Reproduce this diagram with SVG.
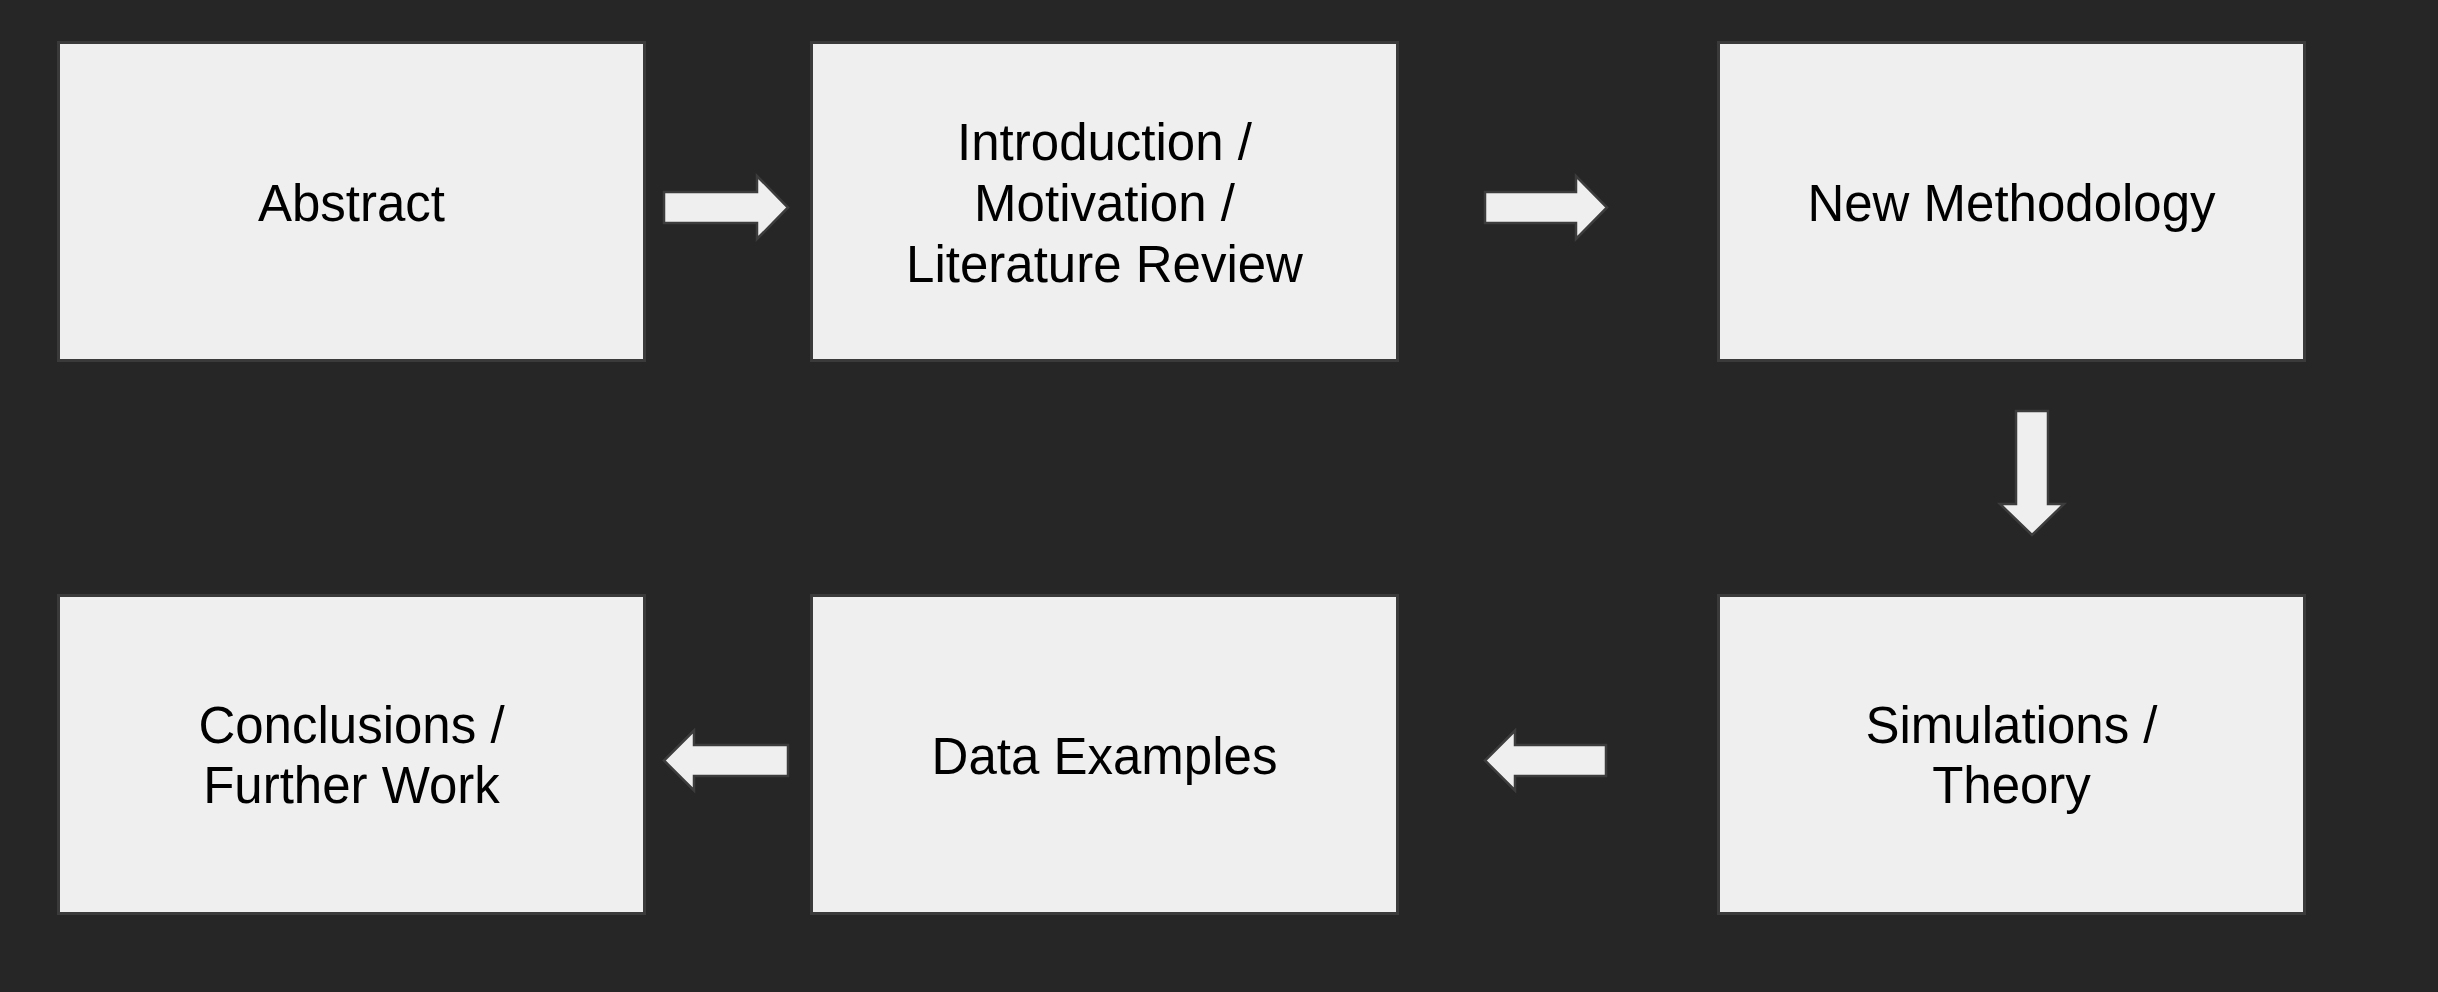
<svg xmlns="http://www.w3.org/2000/svg" width="2438" height="992" viewBox="0 0 2438 992">
<style>
.box{fill:#efefef;stroke:#3a3a3a;stroke-width:3}
.lbl{font-family:"Liberation Sans",Arial,sans-serif;font-size:51px;fill:#000;text-anchor:middle}
.arr{fill:#efefef;stroke:#3c3c3c;stroke-width:2.5;stroke-linejoin:miter}
</style>
<rect x="0" y="0" width="2438" height="992" fill="#262626"/>
<g id="node-abstract">
<rect class="box" x="58.5" y="42.5" width="586" height="318"/>
<text class="lbl" x="351.5" y="221">Abstract</text>
</g>
<g id="node-introduction">
<rect class="box" x="811.5" y="42.5" width="586" height="318"/>
<text class="lbl" x="1104.5" y="160">Introduction /</text>
<text class="lbl" x="1104.5" y="221">Motivation /</text>
<text class="lbl" x="1104.5" y="282">Literature Review</text>
</g>
<g id="node-methodology">
<rect class="box" x="1718.5" y="42.5" width="586" height="318"/>
<text class="lbl" x="2011.5" y="221">New Methodology</text>
</g>
<g id="node-simulations">
<rect class="box" x="1718.5" y="595.5" width="586" height="318"/>
<text class="lbl" x="2011.5" y="743">Simulations /</text>
<text class="lbl" x="2011.5" y="803">Theory</text>
</g>
<g id="node-data">
<rect class="box" x="811.5" y="595.5" width="586" height="318"/>
<text class="lbl" x="1104.5" y="774">Data Examples</text>
</g>
<g id="node-conclusions">
<rect class="box" x="58.5" y="595.5" width="586" height="318"/>
<text class="lbl" x="351.5" y="743">Conclusions /</text>
<text class="lbl" x="351.5" y="803">Further Work</text>
</g>
<g id="connectors">
<polygon class="arr" points="664,192 757,192 757,176 788,207.5 757,239 757,223 664,223"/>
<polygon class="arr" points="1485,192 1576,192 1576,176 1607,207.5 1576,239 1576,223 1485,223"/>
<polygon class="arr" points="2016,411 2048,411 2048,504 2064,504 2032,535 2000,504 2016,504"/>
<polygon class="arr" points="1606,745 1515,745 1515,730.5 1485,760.5 1515,790.5 1515,776 1606,776"/>
<polygon class="arr" points="788,745 694,745 694,730.5 664,760.5 694,790.5 694,776 788,776"/>
</g>
</svg>
